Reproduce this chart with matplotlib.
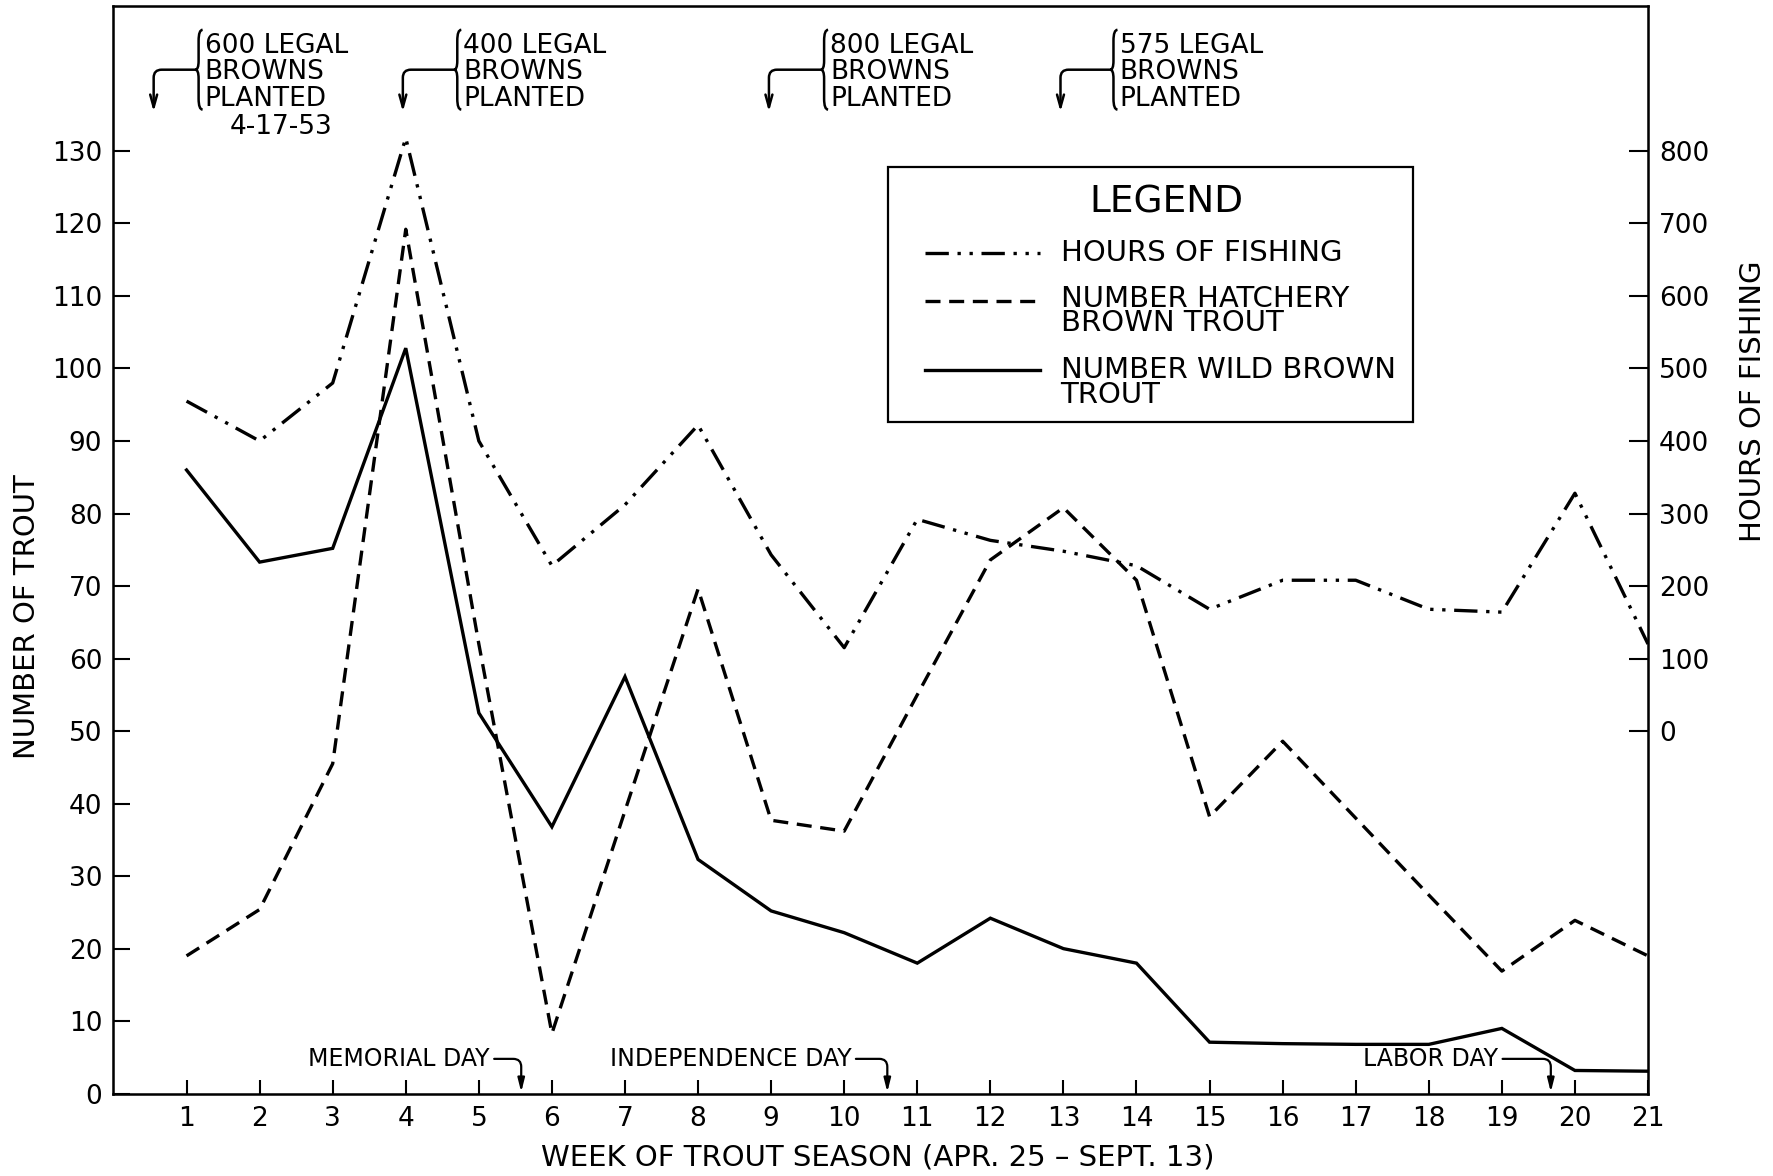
import numpy as np
import matplotlib.pyplot as plt
from matplotlib.path import Path
from matplotlib.patches import PathPatch, Rectangle

plt.rcParams['font.family'] = 'DejaVu Sans'

# data
weeks = list(range(1, 22))
wild = [86, 73.3, 75.2, 102.8, 52.5, 36.8, 57.5, 32.3, 25.2, 22.2, 18, 24.2,
        20, 18, 7.1, 6.9, 6.8, 6.8, 9, 3.2, 3.1]
hatchery = [19, 25.4, 45.5, 119.2, 62, 8.3, 39, 69.6, 37.7, 36.2, 55, 73.6,
            80.8, 70.8, 38.2, 48.6, 38, 27.4, 16.9, 23.9, 19]
hours = [455, 400, 480, 818, 400, 228, 312, 422, 243, 115, 292, 263, 248,
         228, 168, 208, 208, 168, 164, 328, 120]

plantings = ["600 LEGAL\nBROWNS\nPLANTED", "400 LEGAL\nBROWNS\nPLANTED",
             "800 LEGAL\nBROWNS\nPLANTED", "575 LEGAL\nBROWNS\nPLANTED"]
plant_arrow_x = [0.55, 3.96, 8.97, 12.96]
plant_text_x = [1.25, 4.79, 9.81, 13.77]
holidays = ["MEMORIAL DAY", "INDEPENDENCE DAY", "LABOR DAY"]
holiday_text_x = [5.15, 10.1, 18.95]
holiday_arrow_x = [5.58, 10.59, 19.67]

legend_labels = ["HOURS OF FISHING", "NUMBER HATCHERY\nBROWN TROUT", "NUMBER WILD BROWN\nTROUT"]

fig = plt.figure(figsize=(17.73, 11.76), dpi=100)
ax = fig.add_axes([0.064, 0.070, 0.8655, 0.925])

lw = 2.4
dashdot = (0, (7, 2.6, 1, 2.6, 1, 2.6))
dashed = (0, (4.5, 2.6))
ax.plot(weeks, wild, color='black', lw=lw, solid_joinstyle='miter')
ax.plot(weeks, hatchery, color='black', lw=lw, linestyle=dashed)
# hours of fishing use the right scale: 0 h sits at 50, 800 h at 130 on the left
hours_left = [50 + h / 10 for h in hours]
ax.plot(weeks, hours_left, color='black', lw=lw, linestyle=dashdot)

ax.set_xlim(0, 21)
ax.set_ylim(0, 150)
ax.set_xticks(weeks)
ax.set_xticklabels([str(w) for w in weeks])
ax.set_yticks(range(0, 131, 10))
ax.tick_params(axis='both', direction='in', labelsize=19, width=1.5)
ax.tick_params(axis='y', length=12, pad=8)
ax.tick_params(axis='x', length=10, pad=9)
for s in ax.spines.values():
    s.set_linewidth(1.8)

ax2 = ax.twinx()
ax2.set_ylim(-500, 1000)
ax2.set_yticks(range(0, 801, 100))
ax2.tick_params(axis='y', direction='in', length=14, width=1.5, labelsize=19, pad=8)

fig.text(0.015, 0.476, "NUMBER OF TROUT", rotation=90, ha='center', va='center', fontsize=21)
fig.text(0.989, 0.659, "HOURS OF FISHING", rotation=90, ha='center', va='center', fontsize=21)
fig.text(0.495, 0.016, "WEEK OF TROUT SEASON (APR. 25 \u2013 SEPT. 13)",
         ha='center', va='center', fontsize=21)


def brace(x, ymid, half_h, w):
    # curly brace opening to the right, point at (x, ymid)
    xr = x + w
    xm = x + w * 0.45
    verts = [(xr, ymid + half_h), (xm, ymid + half_h), (xm, ymid + half_h - 1.5),
             (xm, ymid + 1.2), (xm, ymid), (x, ymid),
             (x, ymid), (xm, ymid), (xm, ymid - 1.2),
             (xm, ymid - half_h + 1.5), (xm, ymid - half_h), (xr, ymid - half_h)]
    codes = [Path.MOVETO, Path.CURVE3, Path.CURVE3, Path.LINETO, Path.CURVE3, Path.CURVE3,
             Path.MOVETO, Path.CURVE3, Path.CURVE3, Path.LINETO, Path.CURVE3, Path.CURVE3]
    ax.add_patch(PathPatch(Path(verts, codes), fill=False, lw=1.8, color='black'))


brace_mid = 141.2
for label, ax_x, tx in zip(plantings, plant_arrow_x, plant_text_x):
    bx = tx - 0.13
    brace(bx, brace_mid, 5.5, 0.1)
    ax.text(tx, 146.3, label, ha='left', va='top', fontsize=19, linespacing=1.03)
    ax.annotate("", xy=(ax_x, 135.4), xytext=(bx, brace_mid),
                arrowprops=dict(arrowstyle='->,head_length=0.9,head_width=0.25', lw=1.8,
                                connectionstyle='angle,angleA=180,angleB=90,rad=8',
                                shrinkA=0, shrinkB=0))
ax.text(2.3, 133.3, "4-17-53", ha='center', va='center', fontsize=19)

for label, tx, axx in zip(holidays, holiday_text_x, holiday_arrow_x):
    ax.text(tx, 4.8, label, ha='right', va='center', fontsize=17)
    ax.annotate("", xy=(axx, 0.2), xytext=(tx + 0.06, 4.8),
                arrowprops=dict(arrowstyle='-|>,head_length=0.8,head_width=0.2', lw=1.6,
                                color='black',
                                connectionstyle='angle,angleA=0,angleB=90,rad=8',
                                shrinkA=0, shrinkB=0))

# legend box drawn by hand, in axes fractions
tr = ax.transAxes
ax.add_patch(Rectangle((0.5045, 0.6177), 0.3426, 0.2339, transform=tr, fill=False,
                       lw=1.6, edgecolor='black', zorder=5))
ax.text(0.6865, 0.8195, "LEGEND", transform=tr, ha='center', va='center', fontsize=27)
row_y = [0.7726, 0.7196, 0.6541]
handle_y = [0.7726, 0.7289, 0.6656]
styles = [dashdot, dashed, '-']
for lab, ty, hy, st in zip(legend_labels, row_y, handle_y, styles):
    ax.plot([0.5288, 0.6039], [hy, hy], transform=tr, color='black', lw=lw, linestyle=st)
    ax.text(0.6172, ty, lab, transform=tr, ha='left', va='center', fontsize=21,
            linespacing=0.85)

fig.savefig("out.png", dpi=100)
